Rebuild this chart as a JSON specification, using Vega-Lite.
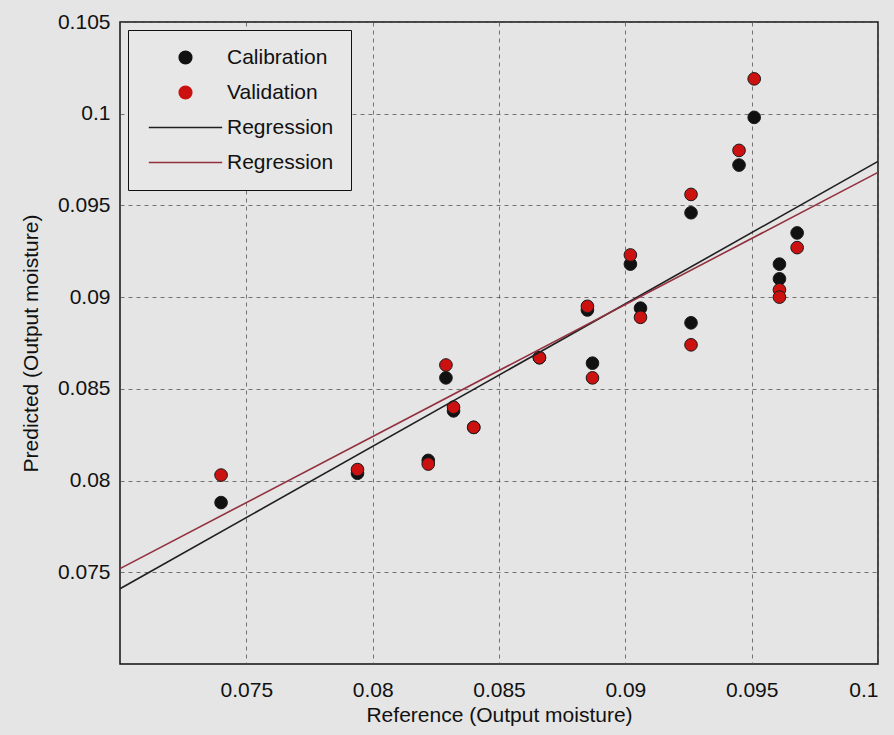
{
  "$schema": "https://vega.github.io/schema/vega-lite/v6.json",
  "width": 758,
  "height": 642,
  "autosize": "none",
  "padding": {"left": 120, "top": 22, "right": 16, "bottom": 71},
  "background": "#e4e5e4",
  "config": {
    "font": "Liberation Sans",
    "view": {"stroke": "#111111", "strokeWidth": 1.5, "fill": "#e4e5e4"},
    "axis": {
      "labelFont": "Liberation Sans",
      "titleFont": "Liberation Sans",
      "labelFontSize": 21,
      "titleFontSize": 21,
      "titleFontWeight": "normal",
      "labelColor": "#111111",
      "titleColor": "#111111",
      "domain": false,
      "ticks": false,
      "gridColor": "#555555",
      "gridDash": [4, 4],
      "gridWidth": 1,
      "gridOpacity": 0.8
    },
    "legend": {
      "orient": "top-left",
      "offset": 8,
      "padding": 17,
      "strokeColor": "#111111",
      "fillColor": "#e6e7e6",
      "labelFont": "Liberation Sans",
      "labelFontSize": 21,
      "labelColor": "#111111",
      "symbolSize": 160,
      "symbolStrokeWidth": 1.5,
      "rowPadding": 13,
      "symbolOffset": 30,
      "labelOffset": 31
    }
  },
  "layer": [
    {
      "data": {
        "values": [
          {"ref": 0.0740, "pred": 0.0788, "series": "Calibration"},
          {"ref": 0.0794, "pred": 0.0804, "series": "Calibration"},
          {"ref": 0.0822, "pred": 0.0811, "series": "Calibration"},
          {"ref": 0.0829, "pred": 0.0856, "series": "Calibration"},
          {"ref": 0.0832, "pred": 0.0838, "series": "Calibration"},
          {"ref": 0.0840, "pred": 0.0829, "series": "Calibration"},
          {"ref": 0.0866, "pred": 0.0867, "series": "Calibration"},
          {"ref": 0.0887, "pred": 0.0864, "series": "Calibration"},
          {"ref": 0.0885, "pred": 0.0893, "series": "Calibration"},
          {"ref": 0.0906, "pred": 0.0894, "series": "Calibration"},
          {"ref": 0.0902, "pred": 0.0918, "series": "Calibration"},
          {"ref": 0.0926, "pred": 0.0946, "series": "Calibration"},
          {"ref": 0.0926, "pred": 0.0886, "series": "Calibration"},
          {"ref": 0.0945, "pred": 0.0972, "series": "Calibration"},
          {"ref": 0.0951, "pred": 0.0998, "series": "Calibration"},
          {"ref": 0.0968, "pred": 0.0935, "series": "Calibration"},
          {"ref": 0.0961, "pred": 0.0918, "series": "Calibration"},
          {"ref": 0.0961, "pred": 0.0910, "series": "Calibration"},
          {"ref": 0.0740, "pred": 0.0803, "series": "Validation"},
          {"ref": 0.0794, "pred": 0.0806, "series": "Validation"},
          {"ref": 0.0822, "pred": 0.0809, "series": "Validation"},
          {"ref": 0.0829, "pred": 0.0863, "series": "Validation"},
          {"ref": 0.0832, "pred": 0.0840, "series": "Validation"},
          {"ref": 0.0840, "pred": 0.0829, "series": "Validation"},
          {"ref": 0.0866, "pred": 0.0867, "series": "Validation"},
          {"ref": 0.0887, "pred": 0.0856, "series": "Validation"},
          {"ref": 0.0885, "pred": 0.0895, "series": "Validation"},
          {"ref": 0.0906, "pred": 0.0889, "series": "Validation"},
          {"ref": 0.0902, "pred": 0.0923, "series": "Validation"},
          {"ref": 0.0926, "pred": 0.0956, "series": "Validation"},
          {"ref": 0.0926, "pred": 0.0874, "series": "Validation"},
          {"ref": 0.0945, "pred": 0.0980, "series": "Validation"},
          {"ref": 0.0951, "pred": 0.1019, "series": "Validation"},
          {"ref": 0.0968, "pred": 0.0927, "series": "Validation"},
          {"ref": 0.0961, "pred": 0.0904, "series": "Validation"},
          {"ref": 0.0961, "pred": 0.0900, "series": "Validation"}
        ]
      },
      "mark": {"type": "point", "filled": true, "opacity": 1, "size": 160, "stroke": "#1a1a1a", "strokeWidth": 1},
      "encoding": {
        "x": {
          "field": "ref", "type": "quantitative",
          "scale": {"domain": [0.07, 0.1], "nice": false, "zero": false},
          "axis": {"values": [0.075, 0.08, 0.085, 0.09, 0.095, 0.1], "format": ".3~f", "title": "Reference (Output moisture)", "labelPadding": 15, "titlePadding": 4}
        },
        "y": {
          "field": "pred", "type": "quantitative",
          "scale": {"domain": [0.07, 0.105], "nice": false, "zero": false},
          "axis": {"values": [0.075, 0.08, 0.085, 0.09, 0.095, 0.1, 0.105], "format": ".3~f", "title": "Predicted (Output moisture)", "labelPadding": 10, "titlePadding": 16}
        },
        "color": {
          "field": "series", "type": "nominal",
          "scale": {
            "domain": ["Calibration", "Validation", "Regression (cal)", "Regression (val)"],
            "range": ["#111111", "#cc1111", "#1f1f1f", "#93303f"]
          },
          "legend": {
            "title": null,
            "labelExpr": "indexof(datum.value, 'Regression') == 0 ? 'Regression' : datum.value"
          }
        },
        "shape": {
          "field": "series", "type": "nominal",
          "scale": {
            "domain": ["Calibration", "Validation", "Regression (cal)", "Regression (val)"],
            "range": ["circle", "circle", "M-5.8,0L5.8,0", "M-5.8,0L5.8,0"]
          },
          "legend": {
            "title": null,
            "labelExpr": "indexof(datum.value, 'Regression') == 0 ? 'Regression' : datum.value"
          }
        }
      }
    },
    {
      "data": {
        "values": [
          {"ref": 0.07, "pred": 0.0741, "series": "Regression (cal)"},
          {"ref": 0.1, "pred": 0.0974, "series": "Regression (cal)"},
          {"ref": 0.07, "pred": 0.0752, "series": "Regression (val)"},
          {"ref": 0.1, "pred": 0.0968, "series": "Regression (val)"}
        ]
      },
      "mark": {"type": "line", "strokeWidth": 1.6},
      "encoding": {
        "x": {"field": "ref", "type": "quantitative"},
        "y": {"field": "pred", "type": "quantitative"},
        "color": {"field": "series", "type": "nominal"}
      }
    }
  ]
}
